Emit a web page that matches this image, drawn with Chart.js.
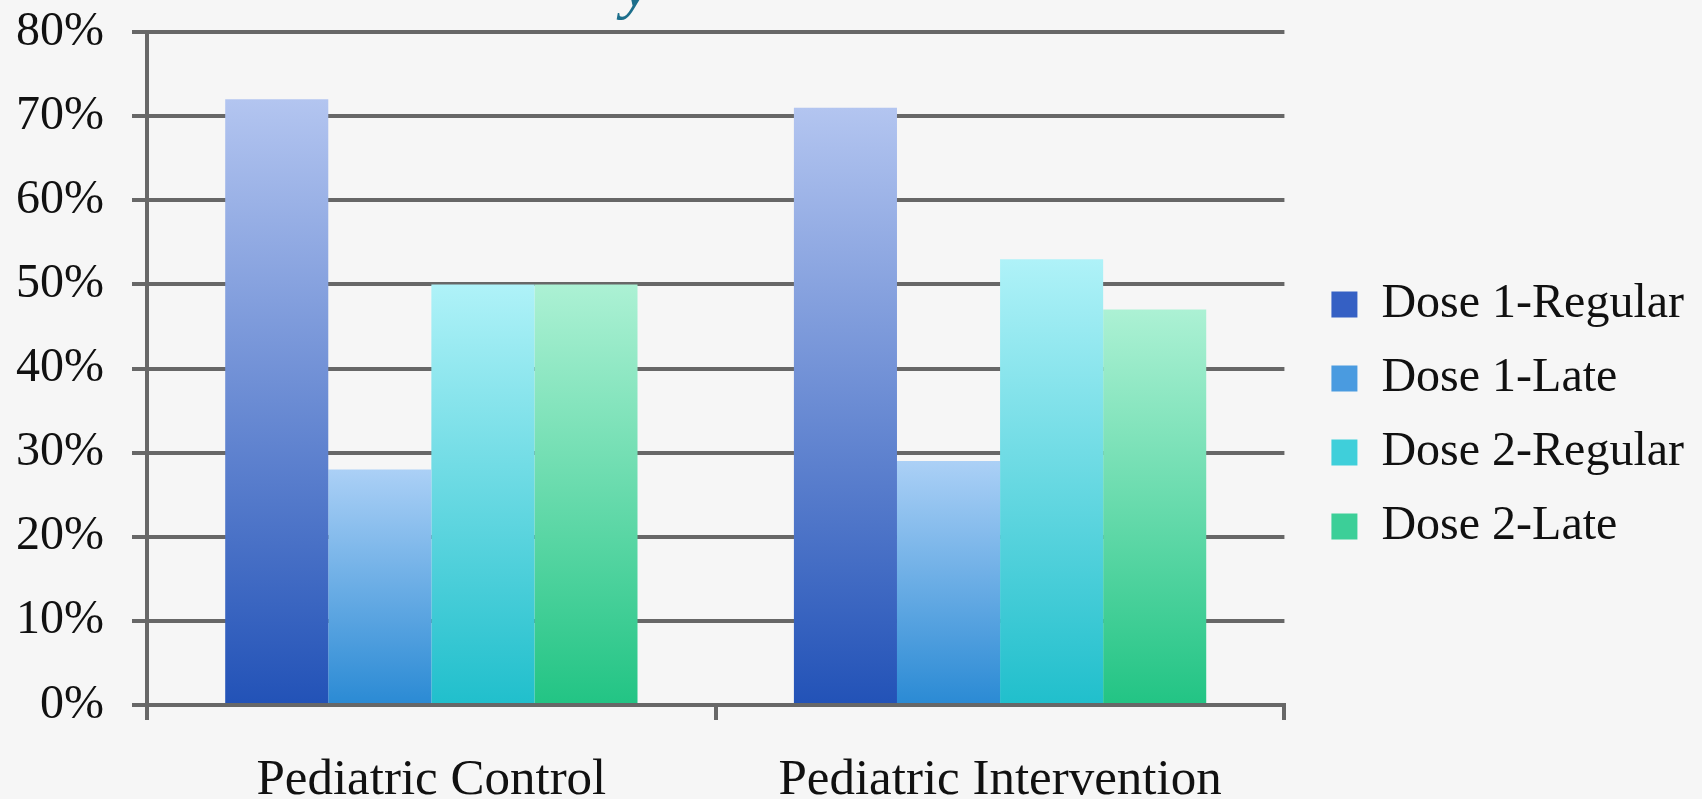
<!DOCTYPE html>
<html>
<head>
<meta charset="utf-8">
<script src="https://cdn.jsdelivr.net/npm/chart.js@4/dist/chart.umd.min.js"></script>
<style>
  html, body { margin: 0; padding: 0; background: #f6f6f6; }
  #wrap { position: relative; width: 1702px; height: 799px; overflow: hidden; }
  #titleTail { position: absolute; left: 622px; top: -52px; font: italic 64px "Liberation Serif", serif; color: #1d6f8c; }
</style>
</head>
<body>
<div id="wrap">
  <span id="titleTail">y</span>
  <canvas id="doseChart" width="1702" height="799"></canvas>
</div>
<script>
// chart data
const categories = ['Pediatric Control', 'Pediatric Intervention'];
const seriesNames = ['Dose 1-Regular', 'Dose 1-Late', 'Dose 2-Regular', 'Dose 2-Late'];
const dose1Regular = [72, 71];
const dose1Late = [28, 29];
const dose2Regular = [50, 53];
const dose2Late = [50, 47];
const yTicks = [0, 10, 20, 30, 40, 50, 60, 70, 80];

// top / bottom colours of each bar's gradient
const gradientStops = [
    ['#b3c5f0', '#2252b7'],
    ['#abd0f6', '#2a8ad4'],
    ['#aff2f8', '#20bfcc'],
    ['#acf1d4', '#22c484'],
];
const legendColors = ['#3560c4', '#4a9be0', '#3fcfda', '#3ccf98'];

const serif = '"Liberation Serif", "DejaVu Serif", serif';
const gridGray = '#676767';

function barGradient(i) {
    return (ctx) => {
        const chart = ctx.chart;
        if (!chart.chartArea || ctx.raw === undefined) return gradientStops[i][1];
        const y = chart.scales.y;
        const top = y.getPixelForValue(ctx.raw);
        const bottom = y.getPixelForValue(0);
        const g = chart.ctx.createLinearGradient(0, top, 0, bottom);
        g.addColorStop(0, gradientStops[i][0]);
        g.addColorStop(1, gradientStops[i][1]);
        return g;
    };
}

const seriesValues = [dose1Regular, dose1Late, dose2Regular, dose2Late];
const datasets = seriesNames.map((name, i) => ({
    label: name,
    data: seriesValues[i],
    backgroundColor: barGradient(i),
    borderWidth: 0,
    categoryPercentage: 0.725,
    barPercentage: 1.0,
}));

const config = {
    type: 'bar',
    data: { labels: categories, datasets: datasets },
    options: {
        responsive: false,
        animation: false,
        layout: { padding: { left: 10, top: 32, right: 8, bottom: 0 } },
        plugins: {
            title: { display: false },
            tooltip: { enabled: false },
            legend: {
                position: 'right',
                labels: {
                    color: '#111',
                    font: { family: serif, size: 48 },
                    boxWidth: 26,
                    boxHeight: 26,
                    padding: 26,
                    generateLabels: (chart) => chart.data.datasets.map((ds, i) => ({
                        text: ds.label,
                        fillStyle: legendColors[i],
                        strokeStyle: legendColors[i],
                        lineWidth: 0,
                        datasetIndex: i,
                        fontColor: '#111',
                    })),
                },
            },
        },
        scales: {
            x: {
                grid: {
                    display: true,
                    drawOnChartArea: false,
                    drawTicks: true,
                    tickLength: 15,
                    color: gridGray,
                    lineWidth: 4,
                },
                border: { color: gridGray, width: 4 },
                ticks: {
                    color: '#111',
                    font: { family: serif, size: 51 },
                    padding: 30,
                    maxRotation: 0,
                },
                afterFit: (axis) => { axis.height = 94; },
            },
            y: {
                min: 0,
                max: 80,
                afterBuildTicks: (axis) => { axis.ticks = yTicks.map((v) => ({ value: v })); },
                afterFit: (axis) => {
                    axis.width = 137;
                    axis.paddingTop = 0;
                    axis.paddingBottom = 0;
                },
                grid: {
                    color: gridGray,
                    lineWidth: 4,
                    tickLength: 15,
                },
                border: { color: gridGray, width: 4 },
                ticks: {
                    color: '#111',
                    font: { family: serif, size: 48 },
                    padding: 28,
                    callback: (v) => v + '%',
                },
            },
            // empty right-hand axis, only keeps the gap before the legend
            gap: {
                position: 'right',
                display: false,
                afterFit: (axis) => { axis.width = 21; },
            },
        },
    },
};

new Chart(document.getElementById('doseChart'), config);
</script>
</body>
</html>
